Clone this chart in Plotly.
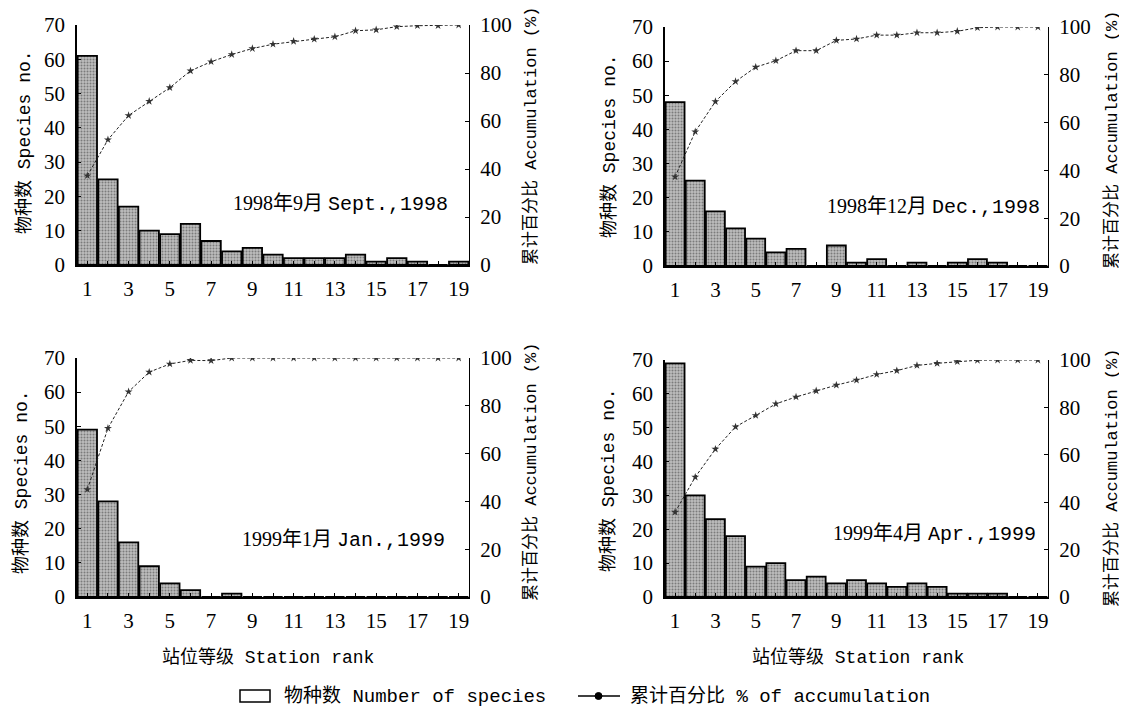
import plotly.graph_objects as go

ranks = list(range(1, 20))
tick_labels = [str(i) if i % 2 == 1 else "" for i in ranks]

panel_titles_cn = ["1998年9月", "1998年12月", "1999年1月", "1999年4月"]
panel_titles_en = ["Sept.,1998", "Dec.,1998", "Jan.,1999", "Apr.,1999"]

species_sep98 = [61, 25, 17, 10, 9, 12, 7, 4, 5, 3, 2, 2, 2, 3, 1, 2, 1, 0, 1]
accum_sep98 = [37.2, 52.2, 62.3, 68.2, 73.9, 80.9, 84.7, 87.7, 90.2, 92.0,
               93.2, 94.1, 95.1, 97.6, 98.0, 99.3, 99.7, 99.7, 100]

species_dec98 = [48, 25, 16, 11, 8, 4, 5, 0, 6, 1, 2, 0, 1, 0, 1, 2, 1, 0, 0]
accum_dec98 = [37.3, 56.2, 68.8, 77.2, 83.2, 85.9, 90.1, 90.1, 94.4, 95.0,
               96.6, 96.6, 97.6, 97.6, 98.2, 99.7, 100, 100, 100]

species_jan99 = [49, 28, 16, 9, 4, 2, 0, 1, 0, 0, 0, 0, 0, 0, 0, 0, 0, 0, 0]
accum_jan99 = [45.0, 70.6, 85.9, 94.1, 97.5, 99.0, 98.9, 100, 100, 100,
               100, 100, 100, 100, 100, 100, 100, 100, 100]

species_apr99 = [69, 30, 23, 18, 9, 10, 5, 6, 4, 5, 4, 3, 4, 3, 1, 1, 1, 0, 0]
accum_apr99 = [35.8, 50.6, 62.4, 71.8, 76.6, 81.5, 84.4, 87.0, 89.4, 91.5,
               93.9, 95.5, 97.7, 98.6, 99.3, 99.9, 100, 100, 100]

species_sets = [species_sep98, species_dec98, species_jan99, species_apr99]
accum_sets = [accum_sep98, accum_dec98, accum_jan99, accum_apr99]

# page body has an 8px default margin: size the figure so it fits the window
OFF = 8
W, H = 1127 - OFF, 709 - OFF
SERIF = "Liberation Serif, Noto Sans CJK SC"
MONO = "Liberation Mono, Noto Sans CJK SC"

# plot-area boxes in window pixels (left, right, top, bottom)
boxes = [(77, 469, 25, 265), (665, 1048, 27, 266),
         (77, 469, 358, 597), (665, 1048, 360, 597)]


def px_x(v):
    return (v - OFF) / W


def px_y(v):
    return 1 - (v - OFF) / H


fig = go.Figure()
layout = dict(
    width=W, height=H,
    margin=dict(l=0, r=0, t=0, b=0, autoexpand=False),
    paper_bgcolor="white", plot_bgcolor="white",
    showlegend=False,
    bargap=0.06,
    font=dict(family=SERIF, size=18, color="black"),
)

annotations = []
shapes = []
for k in range(4):
    xa = "x" if k == 0 else f"x{k+1}"
    yl = "y" if k == 0 else f"y{2*k+1}"
    yr = f"y{2*k+2}"
    l, r, t, b = boxes[k]
    xkey = "xaxis" if k == 0 else f"xaxis{k+1}"
    ylkey = "yaxis" if k == 0 else f"yaxis{2*k+1}"
    yrkey = f"yaxis{2*k+2}"

    fig.add_trace(go.Bar(
        x=ranks, y=species_sets[k], xaxis=xa, yaxis=yl,
        name="物种数 Number of species",
        marker=dict(color="#b4b4b4",
                    line=dict(color="black", width=1.8),
                    pattern=dict(shape=".", fillmode="overlay", bgcolor="#bcbcbc",
                                 fgcolor="#3a3a3a", size=3, solidity=0.35)),
        hoverinfo="skip",
    ))
    fig.add_trace(go.Scatter(
        x=ranks, y=accum_sets[k], xaxis=xa, yaxis=yr, mode="lines+markers",
        name="累计百分比 % of accumulation",
        line=dict(color="#222222", width=1, dash="3px,2px"),
        marker=dict(symbol="star", size=6, color="#333333"),
        hoverinfo="skip",
    ))

    layout[xkey] = dict(
        domain=[px_x(l), px_x(r)], anchor=yl, range=[0.5, 19.5], automargin=False,
        tickvals=ranks, ticktext=tick_labels, ticks="inside", ticklen=4,
        tickcolor="black", showline=True, linecolor="black", linewidth=1.5,
        showgrid=False, zeroline=False,
        tickfont=dict(family=SERIF, size=21), ticklabelstandoff=4,
    )
    layout[ylkey] = dict(
        domain=[px_y(b), px_y(t)], anchor=xa, range=[0, 70], dtick=10,
        automargin=False,
        ticks="inside", ticklen=4, tickcolor="black", showline=True,
        linecolor="black", linewidth=1.5, showgrid=False, zeroline=False,
        tickfont=dict(family=SERIF, size=21), ticklabelstandoff=6,
    )
    layout[yrkey] = dict(
        overlaying=yl, side="right", anchor=xa, range=[0, 100], dtick=20,
        automargin=False,
        ticks="inside", ticklen=4, tickcolor="black", showline=True,
        linecolor="black", linewidth=1.2, showgrid=False, zeroline=False,
        tickfont=dict(family=SERIF, size=21), ticklabelstandoff=6,
    )

# panel labels
label_pos = [(340, 204), (933, 207), (343, 540), (934, 534)]
for k, (cx, cy) in enumerate(label_pos):
    annotations.append(dict(
        x=px_x(cx), y=px_y(cy), xref="paper", yref="paper",
        text=(f"{panel_titles_cn[k]} "
              f"<span style='font-family:Liberation Mono'>{panel_titles_en[k]}</span>"),
        showarrow=False, xanchor="center", yanchor="middle",
        font=dict(family=SERIF, size=20),
    ))

# axis titles
left_titles = [(24, 142), (610, 146), (21, 482), (608, 480)]
for cx, cy in left_titles:
    annotations.append(dict(
        x=px_x(cx), y=px_y(cy), xref="paper", yref="paper",
        text="物种数 Species no.", showarrow=False, textangle=-90,
        xanchor="center", yanchor="middle", font=dict(family=MONO, size=18),
    ))
right_titles = [(531, 136), (1112, 140), (531, 472), (1112, 478)]
for cx, cy in right_titles:
    annotations.append(dict(
        x=px_x(cx), y=px_y(cy), xref="paper", yref="paper",
        text="累计百分比 Accumulation (%)", showarrow=False, textangle=-90,
        xanchor="center", yanchor="middle", font=dict(family=MONO, size=17),
    ))
for cx in (268, 858):
    annotations.append(dict(
        x=px_x(cx), y=px_y(657), xref="paper", yref="paper",
        text="站位等级 Station rank", showarrow=False,
        xanchor="center", yanchor="middle", font=dict(family=MONO, size=18),
    ))

# legend (drawn by hand to match the wide box key)
shapes.append(dict(type="rect", xref="paper", yref="paper",
                   x0=px_x(240), x1=px_x(270), y0=px_y(702), y1=px_y(690),
                   line=dict(color="black", width=1.5), fillcolor="white"))
annotations.append(dict(
    x=px_x(282), y=px_y(696), xref="paper", yref="paper",
    text="物种数 Number of species", showarrow=False,
    xanchor="left", yanchor="middle", font=dict(family=MONO, size=19),
))
shapes.append(dict(type="line", xref="paper", yref="paper",
                   x0=px_x(578), x1=px_x(620), y0=px_y(696), y1=px_y(696),
                   line=dict(color="black", width=1.5)))
shapes.append(dict(type="circle", xref="paper", yref="paper",
                   x0=px_x(595), x1=px_x(602), y0=px_y(699.5), y1=px_y(692.5),
                   line=dict(color="black", width=1), fillcolor="black"))
annotations.append(dict(
    x=px_x(628), y=px_y(696), xref="paper", yref="paper",
    text="累计百分比 % of accumulation", showarrow=False,
    xanchor="left", yanchor="middle", font=dict(family=MONO, size=19),
))

layout["annotations"] = annotations
layout["shapes"] = shapes
fig.update_layout(**layout)

fig.write_html("out.html")
